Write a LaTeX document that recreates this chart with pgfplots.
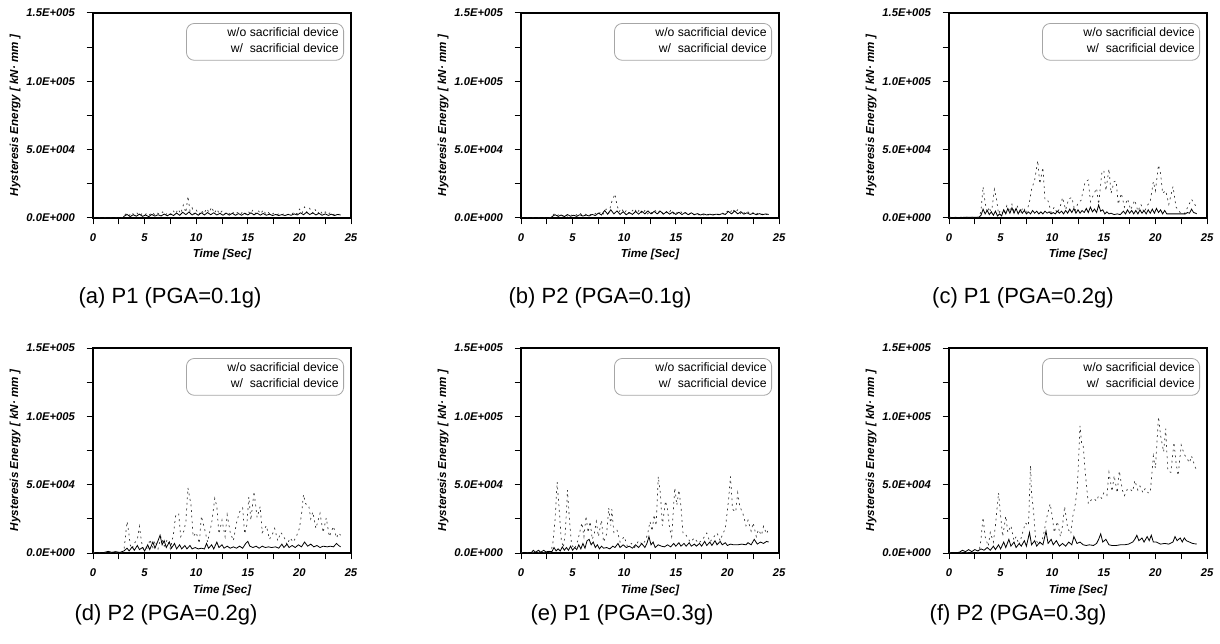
\documentclass[border=0pt]{standalone}
\usepackage{pgfplots}
\pgfplotsset{compat=1.18}
\usepackage{fontspec}
\setmainfont{Liberation Sans}

\pgfplotsset{
  panel/.style={
    scale only axis, width=129pt, height=102.5pt, anchor=south west,
    xmin=0, xmax=25, ymin=0, ymax=150,
    xtick={0,5,10,15,20,25}, minor xtick={2.5,7.5,12.5,17.5,22.5},
    xticklabels={0,5,10,15,20,25},
    ytick={0,50,100,150}, minor ytick={25,75,125},
    yticklabels={0.0E+000,5.0E+004,1.0E+005,1.5E+005},
    scaled ticks=false,
    tick pos=left, tick align=outside,
    major tick length=3.2pt, minor tick length=3.2pt,
    tick style={black, line width=0.5pt},
    axis line style={line width=0.6pt},
    ticklabel style={font=\fontsize{5.6}{6.5}\selectfont\bfseries\itshape},
    xticklabel style={yshift=-1pt},
    yticklabel style={xshift=-2.4pt},
    xlabel={Time [Sec]},
    ylabel={Hysteresis Energy [ kN· mm ]},
    label style={font=\fontsize{5.8}{6.5}\selectfont\bfseries\itshape},
    xlabel style={at={(rel axis cs:0.5,0)}, anchor=center, yshift=-18.5pt},
    ylabel style={at={(rel axis cs:-0.302,0.5)}, anchor=center},
    legend cell align=right,
    legend image code/.code={\path[draw=none] (0pt,0pt) -- (18pt,0pt);},
    legend style={at={(rel axis cs:0.973,0.951)}, anchor=north east,
      draw=black!35, line width=0.4pt, rounded corners=4pt, fill=none,
      font=\fontsize{6.1}{7}\selectfont, inner xsep=1.5pt, inner ysep=1.3pt,
      row sep=0pt, nodes={inner sep=1pt}},
  },
  wo/.style={black!80, line width=0.35pt, dash pattern=on 0.9pt off 1.9pt},
  wi/.style={black, line width=0.4pt},
}

\begin{document}
\begin{tikzpicture}
\path[use as bounding box] (0,0) rectangle (610pt,321.5pt);

% (a) P1, PGA=0.1g
\begin{axis}[panel, at={(46.5pt,212.5pt)}]
\addplot[wo] coordinates {
(0,0) (2.9,0) (3.0,1.5) (3.25,3.5) (3.5,1.8) (3.75,4.0) (4.0,2.2) (4.25,3.8) (4.5,1.5) (4.75,3.2)
(5.0,2.0) (5.25,3.8) (5.5,2.4) (5.75,4.2) (6.0,2.0) (6.25,3.5) (6.5,2.6) (6.75,4.5) (7.0,2.2) (7.25,3.8)
(7.5,2.5) (7.75,5.5) (8.0,3.0) (8.25,6.5) (8.5,3.2) (8.75,9.5) (9.0,4.0) (9.2,16.0) (9.4,5.0) (9.6,7.5)
(9.8,3.0) (10.0,6.0) (10.25,2.5) (10.5,5.5) (10.75,3.0) (11.0,7.0) (11.25,4.0) (11.5,8.0) (11.75,3.5) (12.0,6.5)
(12.25,3.0) (12.5,5.0) (12.75,2.8) (13.0,4.5) (13.25,3.0) (13.5,4.8) (13.75,2.5) (14.0,4.0) (14.25,2.5) (14.5,4.5)
(14.75,2.8) (15.0,5.2) (15.25,3.0) (15.5,6.0) (15.75,3.2) (16.0,5.5) (16.25,3.0) (16.5,6.0) (16.75,2.8) (17.0,4.0)
(17.25,2.0) (17.5,3.5) (17.75,2.2) (18.0,3.0) (18.25,2.0) (18.5,3.2) (18.75,2.2) (19.0,3.0) (19.25,2.5) (19.5,4.5)
(19.75,3.0) (20.0,6.5) (20.25,3.5) (20.5,8.0) (20.75,4.0) (21.0,7.0) (21.25,3.5) (21.5,6.5) (21.75,3.0) (22.0,5.5)
(22.25,2.8) (22.5,4.5) (22.75,2.5) (23.0,4.0) (23.25,2.2) (23.5,3.5) (23.75,2.5) (24.0,3.0)};
\addplot[wi] coordinates {
(0,0) (2.9,0) (3.0,1.2) (3.3,2.6) (3.6,1.0) (3.9,2.4) (4.2,1.3) (4.5,2.8) (4.8,1.2) (5.1,2.2)
(5.4,1.0) (5.7,2.6) (6.0,1.4) (6.3,2.4) (6.6,1.5) (6.9,2.9) (7.2,1.6) (7.5,3.0) (7.8,1.8) (8.1,3.6)
(8.4,2.0) (8.7,4.2) (9.0,2.4) (9.3,4.4) (9.6,2.2) (9.9,3.6) (10.2,2.0) (10.5,3.8) (10.8,2.2) (11.1,4.0)
(11.4,2.4) (11.7,3.8) (12.0,2.2) (12.3,3.4) (12.6,2.0) (12.9,3.6) (13.2,2.1) (13.5,3.4) (13.8,2.0) (14.1,3.2)
(14.4,2.0) (14.7,3.5) (15.0,2.2) (15.3,3.8) (15.6,2.3) (15.9,3.6) (16.2,2.1) (16.5,3.3) (16.8,2.0) (17.1,2.8)
(17.4,1.8) (17.7,2.6) (18.0,1.8) (18.3,2.5) (18.6,1.8) (18.9,2.6) (19.2,2.0) (19.5,3.0) (19.8,2.2) (20.1,3.8)
(20.4,2.4) (20.7,4.2) (21.0,2.5) (21.3,3.8) (21.6,2.2) (21.9,3.4) (22.2,2.0) (22.5,3.0) (22.8,1.9) (23.1,2.8)
(23.4,1.8) (23.7,2.6) (24.0,2.2)};
\legend{w/o sacrificial device, w/\ \ sacrificial device}
\end{axis}

% (b) P2, PGA=0.1g
\begin{axis}[panel, at={(260.5pt,212.5pt)}]
\addplot[wo] coordinates {
(0,0) (2.9,0) (3.0,1.5) (3.25,3.2) (3.5,1.6) (3.75,3.0) (4.0,1.5) (4.25,2.8) (4.5,1.4) (4.75,2.5)
(5.0,1.8) (5.25,3.0) (5.5,1.6) (5.75,3.2) (6.0,1.8) (6.25,2.8) (6.5,1.6) (6.75,2.6) (7.0,2.0) (7.25,3.5)
(7.5,2.4) (7.75,5.0) (8.0,3.0) (8.25,6.5) (8.5,3.5) (8.8,12.0) (9.1,17.6) (9.3,9.5) (9.5,4.5) (9.75,7.0)
(10.0,3.5) (10.25,6.0) (10.5,3.0) (10.75,5.0) (11.0,7.0) (11.25,3.5) (11.5,6.5) (11.75,3.0) (12.0,5.5) (12.25,3.0)
(12.5,5.0) (12.75,3.2) (13.0,5.5) (13.25,3.5) (13.5,5.8) (13.75,3.2) (14.0,5.0) (14.25,3.0) (14.5,5.5) (14.75,3.0)
(15.0,5.0) (15.25,2.8) (15.5,4.5) (15.75,2.6) (16.0,4.2) (16.25,2.5) (16.5,4.0) (16.75,2.4) (17.0,3.6) (17.25,2.2)
(17.5,3.2) (17.75,2.0) (18.0,3.0) (18.25,2.0) (18.5,3.0) (18.75,2.2) (19.0,3.0) (19.25,2.4) (19.5,3.8) (19.75,2.8)
(20.0,5.0) (20.25,3.5) (20.5,6.8) (20.75,3.8) (21.0,6.0) (21.25,3.2) (21.5,5.0) (21.75,2.8) (22.0,4.5) (22.25,2.6)
(22.5,4.0) (22.75,2.5) (23.0,3.8) (23.25,2.4) (23.5,3.5) (23.75,2.5) (24.0,3.0)};
\addplot[wi] coordinates {
(0,0) (2.9,0) (3.0,1.0) (3.3,2.4) (3.6,1.2) (3.9,2.2) (4.2,1.0) (4.5,2.5) (4.8,1.3) (5.1,2.0)
(5.4,1.2) (5.7,2.4) (6.0,1.4) (6.3,2.2) (6.6,1.5) (6.9,2.6) (7.2,1.8) (7.5,3.6) (7.8,2.2) (8.1,5.5)
(8.4,2.8) (8.7,6.0) (9.0,3.0) (9.3,5.2) (9.6,2.6) (9.9,4.6) (10.2,2.4) (10.5,4.0) (10.8,2.6) (11.1,4.8)
(11.4,2.8) (11.7,5.0) (12.0,3.0) (12.3,5.2) (12.6,3.0) (12.9,4.8) (13.2,3.0) (13.5,5.0) (13.8,2.8) (14.1,4.6)
(14.4,2.8) (14.7,4.4) (15.0,2.6) (15.3,4.2) (15.6,2.5) (15.9,4.0) (16.2,2.4) (16.5,3.8) (16.8,2.4) (17.1,3.2)
(17.4,2.2) (17.7,3.0) (18.0,2.2) (18.3,2.8) (18.6,2.2) (18.9,2.8) (19.2,2.4) (19.5,3.2) (19.8,2.6) (20.1,4.8)
(20.4,3.0) (20.7,5.2) (21.0,3.0) (21.3,4.6) (21.6,2.8) (21.9,3.8) (22.2,2.6) (22.5,3.4) (22.8,2.4) (23.1,3.2)
(23.4,2.4) (23.7,3.0) (24.0,2.6)};
\legend{w/o sacrificial device, w/\ \ sacrificial device}
\end{axis}

% (c) P1, PGA=0.2g
\begin{axis}[panel, at={(474.5pt,212.5pt)}]
\addplot[wo] coordinates {
(0,0.5) (2.9,0.5) (3.1,5) (3.3,22.9) (3.5,11) (3.7,4) (3.9,8) (4.1,3) (4.4,21) (4.6,14)
(4.8,3) (5.0,6) (5.3,2.5) (5.6,9) (5.8,4) (6.1,10) (6.3,4) (6.6,9) (6.9,3.5) (7.2,8)
(7.5,3.5) (7.8,12) (8.0,21) (8.3,27.8) (8.6,42) (8.8,25) (9.1,37) (9.3,13) (9.6,12.5) (9.9,4)
(10.2,8) (10.5,3.5) (10.8,9) (11.0,15) (11.3,6) (11.6,14) (11.9,15) (12.2,5) (12.5,11) (12.8,13)
(13.0,20) (13.2,26.6) (13.5,27.8) (13.7,12) (14.0,17) (14.3,21.7) (14.5,10) (14.8,32.7) (15.0,35) (15.2,20)
(15.5,36) (15.7,18) (16.0,26.6) (16.2,27) (16.4,10) (16.7,18) (17.0,8) (17.3,14) (17.6,6) (18.0,13)
(18.3,5) (18.6,10) (18.9,4) (19.2,9) (19.5,12) (19.8,26.6) (20.0,20) (20.3,38.8) (20.5,32.7) (20.7,18)
(21.0,20) (21.3,10) (21.7,23) (22.0,8) (22.4,4) (22.8,3) (23.2,9) (23.5,13.7) (23.8,10) (24.0,8)};
\addplot[wi] coordinates {
(0,0) (1.0,0.4) (2.9,0.6) (3.1,2) (3.3,6.5) (3.5,3) (3.7,5.5) (3.9,2.5) (4.1,4.5) (4.3,2)
(4.5,5) (4.7,1.5) (4.9,3) (5.1,1.5) (5.3,6) (5.5,3) (5.7,7) (5.9,3.5) (6.1,7.5) (6.3,3.5)
(6.5,7) (6.7,3) (6.9,6) (7.1,3.5) (7.3,5.5) (7.5,3) (7.7,4.5) (7.9,3) (8.1,5.5) (8.3,3.5)
(8.5,5) (8.7,3) (8.9,4.5) (9.1,3) (9.3,5) (9.5,3.5) (9.7,4.5) (9.9,3) (10.1,4) (10.3,3)
(10.5,5) (10.7,3.5) (10.9,5) (11.1,3) (11.3,5.5) (11.5,3.5) (11.7,6.5) (11.9,4) (12.1,7) (12.3,3.5)
(12.5,6) (12.7,3.5) (12.9,5.5) (13.1,4) (13.3,7) (13.5,4) (13.7,8) (13.9,4.5) (14.1,6.5) (14.3,4)
(14.5,9.5) (14.7,5) (14.9,6) (15.1,3) (15.3,4.5) (15.5,3) (15.7,3.5) (16.0,2.5) (16.3,3) (16.6,2.5)
(16.9,5) (17.1,3) (17.3,6) (17.5,3.5) (17.7,5.5) (17.9,3) (18.1,5.5) (18.3,3) (18.5,6) (18.7,3.5)
(18.9,5.5) (19.1,3) (19.3,6) (19.5,3.5) (19.7,6.5) (19.9,3.5) (20.1,7) (20.3,4) (20.5,6) (20.7,3)
(20.9,5.5) (21.1,3) (21.4,3) (22.9,3) (23.1,4) (23.3,3.5) (23.5,6.5) (23.7,4) (23.9,3.5) (24.0,3)};
\legend{w/o sacrificial device, w/\ \ sacrificial device}
\end{axis}

% (d) P2, PGA=0.2g
\begin{axis}[panel, at={(46.5pt,45pt)}]
\addplot[wo] coordinates {
(0,0.3) (2.8,0.5) (3.0,2) (3.3,23) (3.45,16) (3.6,6) (3.8,3) (4.0,7) (4.3,10) (4.5,19.5)
(4.7,8) (4.9,3) (5.1,5) (5.3,2) (5.5,10) (5.8,4) (6.0,9) (6.3,3) (6.6,12) (6.9,5)
(7.2,10) (7.5,3) (7.8,14) (8.0,27) (8.3,29) (8.5,12) (8.8,16) (9.0,23) (9.2,47.6) (9.5,35)
(9.7,12) (10.0,15) (10.3,7) (10.5,27) (10.8,18) (11.1,8) (11.5,22) (11.8,40) (12.0,34) (12.2,14)
(12.5,24) (12.8,12) (13.0,28) (13.3,15) (13.6,9) (13.9,22) (14.2,30) (14.5,33) (14.7,14) (14.9,20)
(15.1,41) (15.3,24) (15.6,45) (15.9,26) (16.2,34) (16.4,15) (16.8,20) (17.1,10) (17.4,14) (17.6,18)
(17.9,9) (18.2,15) (18.5,12) (18.8,6) (19.1,11) (19.4,8) (19.7,12) (20.0,18) (20.2,28) (20.4,42.7)
(20.6,36) (20.9,35) (21.1,25) (21.3,30) (21.6,18) (22.0,29) (22.3,15) (22.6,25.6) (22.9,12) (23.3,19.5)
(23.6,11) (23.8,14.6) (24.0,13)};
\addplot[wi] coordinates {
(0,0) (1.0,0.3) (1.5,1.2) (1.8,0.5) (2.2,1.0) (2.6,0.4) (3.0,1.5) (3.3,3.5) (3.5,1.5) (3.8,4.5)
(4.0,2) (4.3,5.5) (4.5,2.5) (4.8,4) (5.0,1.5) (5.3,6) (5.5,2.5) (5.8,8) (6.0,3.5) (6.3,9)
(6.5,13) (6.7,6) (6.9,9) (7.1,4) (7.4,8) (7.6,3.5) (7.9,7) (8.1,3) (8.4,6) (8.6,3)
(8.9,5.5) (9.1,3) (9.4,5.5) (9.6,3) (9.9,4) (10.2,3) (10.5,3.5) (10.8,3) (11.0,7) (11.2,3.5)
(11.5,6) (11.7,3) (12.0,8) (12.2,4) (12.5,6) (12.7,3.5) (13.0,5) (13.3,3.5) (13.6,4.5) (13.9,3.5)
(14.2,5) (14.5,3.5) (14.8,7) (15.0,8.5) (15.2,5) (15.5,4) (15.8,5) (16.1,3.5) (16.4,5) (16.7,4)
(17.0,4.5) (17.3,4) (17.7,4.5) (18.0,3.5) (18.3,6.5) (18.5,4) (18.8,6.5) (19.0,4) (19.3,5.5) (19.6,4)
(19.9,6) (20.2,4.5) (20.5,8) (20.8,5) (21.1,6.5) (21.4,4.5) (21.7,5.5) (22.0,4) (22.3,5) (22.7,4.5)
(23.0,5) (23.3,4.5) (23.6,7) (23.8,5.5) (24.0,4.5)};
\legend{w/o sacrificial device, w/\ \ sacrificial device}
\end{axis}

% (e) P1, PGA=0.3g
\begin{axis}[panel, at={(260.5pt,45pt)}]
\addplot[wo] coordinates {
(0,0.3) (2.9,0.5) (3.1,8) (3.3,24) (3.5,52) (3.7,32) (3.9,10) (4.1,4) (4.3,15) (4.5,46)
(4.7,24) (4.9,6) (5.2,3) (5.5,9) (5.9,22) (6.1,12) (6.3,27) (6.5,15) (6.7,23) (6.9,10)
(7.1,14) (7.3,23) (7.5,12) (7.8,24) (8.0,8) (8.3,14) (8.5,33) (8.7,20) (8.8,32) (9.0,15)
(9.3,17) (9.6,8) (10.0,12) (10.3,5) (10.7,7) (11.0,4) (11.4,9) (11.8,6) (12.1,10) (12.3,15)
(12.5,23) (12.7,16) (12.9,28) (13.1,20) (13.3,56) (13.5,44) (13.7,20) (14.0,38) (14.2,32) (14.4,18)
(14.6,12) (14.9,47.6) (15.1,35) (15.3,46) (15.5,34) (15.7,14) (16.0,13) (16.4,8) (16.8,11) (17.2,7)
(17.6,10) (18.0,14.6) (18.3,8) (18.7,12) (19.0,14.6) (19.3,9) (19.5,13) (19.8,18) (20.1,38) (20.3,56)
(20.5,32) (20.8,30) (21.0,44) (21.2,34) (21.5,29) (21.8,20) (22.0,24) (22.3,16) (22.5,22) (22.8,12)
(23.0,17) (23.3,13) (23.5,19.5) (23.8,14) (24.0,18)};
\addplot[wi] coordinates {
(0,0) (1.0,0.3) (1.2,2) (1.4,0.5) (1.7,2) (1.9,0.5) (2.2,2) (2.4,0.8) (2.7,1.2) (3.0,1)
(3.2,4) (3.4,1.5) (3.6,3) (3.8,1.5) (4.0,4.5) (4.2,2) (4.4,4) (4.6,2) (4.8,5) (5.0,2)
(5.2,4) (5.4,2.5) (5.6,6) (5.8,3) (6.0,7) (6.2,3.5) (6.4,9) (6.6,10) (6.8,6) (7.0,8)
(7.2,4) (7.4,6) (7.6,3) (7.8,5) (8.0,3.5) (8.3,4) (8.6,3) (8.9,5) (9.1,4) (9.4,7)
(9.6,4) (9.9,6) (10.2,4) (10.5,5) (10.8,3.5) (11.1,6) (11.4,4) (11.7,7) (12.0,4) (12.2,7)
(12.4,12) (12.6,6) (12.8,8) (13.0,4) (13.3,6) (13.6,5) (13.9,4.5) (14.2,6) (14.5,4.5) (14.8,7)
(15.0,5) (15.3,7.5) (15.5,5) (15.8,7) (16.0,5) (16.3,7.5) (16.5,5) (16.8,6.5) (17.0,5) (17.3,7)
(17.5,5) (17.8,8.5) (18.0,5.5) (18.3,8) (18.5,5.5) (18.8,9) (19.0,6) (19.3,8.5) (19.5,6) (19.8,7.5)
(20.0,5.5) (20.3,6.5) (20.6,6) (21.0,6) (21.4,6.5) (21.8,6) (22.0,7.5) (22.3,6) (22.6,10) (22.9,6.5)
(23.2,8) (23.5,7) (23.8,8.5) (24.0,8)};
\legend{w/o sacrificial device, w/\ \ sacrificial device}
\end{axis}

% (f) P2, PGA=0.3g
\begin{axis}[panel, at={(474.5pt,45pt)}]
\addplot[wo] coordinates {
(0,0.3) (2.9,0.5) (3.1,10) (3.3,26) (3.5,12) (3.8,5) (4.0,15) (4.3,8) (4.5,20) (4.8,44)
(5.0,27) (5.2,12) (5.5,27) (5.7,15) (6.0,20) (6.3,9) (6.5,12) (6.8,6) (7.1,14) (7.4,22)
(7.7,20) (7.9,64) (8.0,44) (8.2,29.5) (8.4,10) (8.7,6) (9.0,9) (9.2,15) (9.5,27) (9.8,36)
(10.0,27) (10.2,15) (10.5,23) (10.8,12) (11.0,20) (11.2,34) (11.5,18) (11.8,14) (12.0,27) (12.2,34)
(12.4,45) (12.5,58) (12.7,93) (12.85,80) (13.0,79) (13.2,59) (13.5,36) (13.8,39) (14.0,40) (14.3,38)
(14.5,42) (14.8,40) (15.0,44) (15.3,42) (15.5,59) (15.8,45) (16.0,56.6) (16.3,44) (16.5,60) (16.8,46)
(17.0,42) (17.3,47) (17.5,47) (17.8,45) (18.0,53) (18.3,46) (18.5,49) (18.8,44) (19.0,47) (19.3,44)
(19.5,44) (19.8,71) (20.0,62) (20.3,99.6) (20.5,86) (20.8,74) (21.0,91) (21.2,60) (21.5,59) (21.8,81)
(22.0,66) (22.2,56.6) (22.5,79) (22.8,72) (23.0,70) (23.3,66) (23.5,71) (23.8,64) (24.0,60)};
\addplot[wi] coordinates {
(0,0) (1.0,0.5) (1.3,2) (1.6,1) (1.9,2.5) (2.2,1) (2.5,2.5) (2.8,1.5) (3.1,3) (3.4,2)
(3.7,4) (4.0,2) (4.3,5) (4.5,2.5) (4.8,6) (5.0,3) (5.3,8) (5.5,4) (5.8,10) (6.0,5)
(6.3,8) (6.5,4) (6.8,7) (7.0,5) (7.3,9) (7.5,5) (7.8,15) (8.0,6) (8.3,9) (8.5,5)
(8.8,8) (9.1,6) (9.4,16) (9.6,7) (9.9,10) (10.1,6) (10.4,9) (10.7,5) (11.0,7) (11.3,5)
(11.6,8) (11.9,6) (12.1,12) (12.4,7) (12.7,8) (13.0,6) (13.3,5.5) (13.6,6) (14.0,5.5) (14.3,7)
(14.5,10) (14.7,14) (14.9,8) (15.2,10) (15.5,6) (15.8,5.5) (16.2,5.5) (16.6,6) (17.0,6) (17.4,6.5)
(17.8,8) (18.0,10) (18.2,13) (18.4,9) (18.7,11) (18.9,8) (19.2,12) (19.4,9) (19.6,13) (19.8,8)
(20.1,8) (20.5,6.5) (20.9,7) (21.3,6.5) (21.7,8) (21.9,12) (22.1,9) (22.4,11) (22.6,8) (22.8,11)
(23.0,9) (23.3,8) (23.6,7) (24.0,6.5)};
\legend{w/o sacrificial device, w/\ \ sacrificial device}
\end{axis}

\begin{scope}[every node/.style={font=\fontsize{11}{13}\selectfont, inner sep=0pt}]
\node at (85pt,172.5pt) {(a) P1 (PGA=0.1g)};
\node at (300pt,172.5pt) {(b) P2 (PGA=0.1g)};
\node at (511.5pt,172.5pt) {(c) P1 (PGA=0.2g)};
\node at (83pt,14pt) {(d) P2 (PGA=0.2g)};
\node at (311pt,14pt) {(e) P1 (PGA=0.3g)};
\node at (509pt,14pt) {(f) P2 (PGA=0.3g)};
\end{scope}
\end{tikzpicture}
\end{document}
